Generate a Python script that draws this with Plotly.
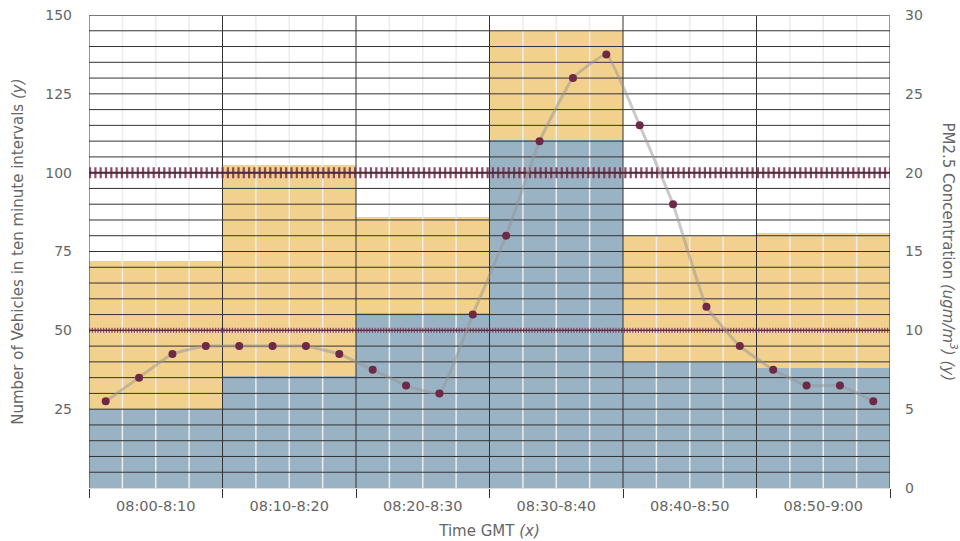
import plotly.graph_objects as go

# ---------------- data ----------------
categories = ["08:00-8:10", "08:10-8:20", "08:20-8:30", "08:30-8:40", "08:40-8:50", "08:50-9:00"]
vehicles_total = [72, 102.5, 86, 145, 80, 81]
vehicles_sub = [25, 35.5, 55.5, 110.5, 40, 38]
pm25 = [5.5, 7.0, 8.5, 9.0, 9.0, 9.0, 9.0, 8.5, 7.5, 6.5, 6.0, 11.0,
        16.0, 22.0, 26.0, 27.5, 23.0, 18.0, 11.5, 9.0, 7.5, 6.5, 6.5, 5.5]
limit_high = 100
limit_low = 50
left_ticks = [25, 50, 75, 100, 125, 150]
right_ticks = [0, 5, 10, 15, 20, 25, 30]

# ---------------- styles ----------------
ORANGE = "#f2d18f"
BLUE = "#9ab3c4"
MAROON = "#6d2946"
DARK = "#333333"
LIGHT = "#ececec"
TEXT = "#666666"
FONT = "DejaVu Sans"

n_cat = len(categories)
sub_per_cat = len(pm25) // n_cat
x_max = n_cat * sub_per_cat
y_max = 150
y2_max = 30

cat_centers = [sub_per_cat * i + sub_per_cat / 2 for i in range(n_cat)]
pm_x = [i + 0.5 for i in range(len(pm25))]

fig = go.Figure()

fig.add_trace(go.Bar(x=cat_centers, y=vehicles_total, width=sub_per_cat,
                     marker=dict(color=ORANGE, line=dict(width=0)),
                     hoverinfo="skip", showlegend=False))
fig.add_trace(go.Bar(x=cat_centers, y=vehicles_sub, width=sub_per_cat,
                     marker=dict(color=BLUE, line=dict(width=0)),
                     hoverinfo="skip", showlegend=False))

# grid drawn above bars
lx, ly = [], []
for k in range(x_max + 1):
    if k % sub_per_cat != 0:
        lx += [k, k, None]
        ly += [0, y_max, None]
fig.add_trace(go.Scatter(x=lx, y=ly, mode="lines", line=dict(color=LIGHT, width=1.5),
                         hoverinfo="skip", showlegend=False))

hx, hy = [], []
for v in range(5, y_max, 5):
    hx += [0, x_max, None]
    hy += [v, v, None]
fig.add_trace(go.Scatter(x=hx, y=hy, mode="lines", line=dict(color=DARK, width=1),
                         hoverinfo="skip", showlegend=False))

vx, vy = [], []
for k in range(0, x_max + 1, sub_per_cat):
    vx += [k, k, None]
    vy += [0, y_max, None]
fig.add_trace(go.Scatter(x=vx, y=vy, mode="lines", line=dict(color=DARK, width=1),
                         hoverinfo="skip", showlegend=False))
fig.add_trace(go.Scatter(x=[0, x_max], y=[y_max, y_max], mode="lines",
                         line=dict(color="#777777", width=2),
                         hoverinfo="skip", showlegend=False))

# threshold "railroad" lines
fig.add_trace(go.Scatter(x=[0, x_max], y=[limit_high, limit_high], mode="lines",
                         line=dict(color="rgba(122,44,78,0.85)", width=11, dash="2.2px,3.1px"),
                         hoverinfo="skip", showlegend=False))
fig.add_trace(go.Scatter(x=[0, x_max], y=[limit_high, limit_high], mode="lines",
                         line=dict(color="#4a2a36", width=2),
                         hoverinfo="skip", showlegend=False))
fig.add_trace(go.Scatter(x=[0, x_max], y=[limit_low, limit_low], mode="lines",
                         line=dict(color="rgba(122,44,78,0.85)", width=5, dash="1.2px,1.6px"),
                         hoverinfo="skip", showlegend=False))
fig.add_trace(go.Scatter(x=[0, x_max], y=[limit_low, limit_low], mode="lines",
                         line=dict(color="#5a2a3e", width=1.3),
                         hoverinfo="skip", showlegend=False))

# PM2.5 line and points
fig.add_trace(go.Scatter(x=pm_x, y=pm25, yaxis="y2", mode="lines",
                         line=dict(color="rgba(150,150,150,0.5)", width=3, shape="spline", smoothing=0.35),
                         hoverinfo="skip", showlegend=False))
fig.add_trace(go.Scatter(x=pm_x, y=pm25, yaxis="y2", mode="markers",
                         marker=dict(color=MAROON, size=8),
                         showlegend=False))

fig.update_layout(
    width=960, height=541,
    margin=dict(l=89, r=70, t=15, b=53, autoexpand=False),
    paper_bgcolor="white", plot_bgcolor="white",
    barmode="overlay", bargap=0,
    font=dict(family=FONT, color=TEXT, size=14),
    xaxis=dict(range=[0, x_max], tickmode="array", tickvals=cat_centers, ticktext=categories,
               ticks="", showgrid=False, zeroline=False, automargin=False,
               showline=True, linecolor="#dddddd", linewidth=1,
               ticklabelstandoff=5,
               tickfont=dict(family=FONT, size=14.5, color=TEXT),
               minor=dict(tickmode="array", tickvals=list(range(0, x_max + 1, sub_per_cat)),
                          ticks="outside", ticklen=9, tickcolor=DARK, tickwidth=1, showgrid=False),
               title=dict(text="Time GMT <i>(x)</i>", font=dict(family=FONT, size=15, color=TEXT),
                          standoff=12)),
    yaxis=dict(range=[0, y_max], tickmode="array", tickvals=left_ticks, automargin=False,
               showgrid=False, zeroline=False, showline=False, ticks="",
               ticklabelstandoff=16, tickfont=dict(family=FONT, size=14, color=TEXT)),
    yaxis2=dict(range=[0, y2_max], overlaying="y", side="right", tickmode="array", automargin=False,
                tickvals=right_ticks, showgrid=False, zeroline=False, showline=False,
                ticks="", ticklabelstandoff=14, tickfont=dict(family=FONT, size=14, color=TEXT)),
    annotations=[
        dict(text="Number of Vehicles in ten minute intervals <i>(y)</i>", xref="paper", yref="paper",
             x=-0.0895, y=0.5, xanchor="center", yanchor="middle", textangle=-90, showarrow=False,
             font=dict(family=FONT, size=15, color=TEXT)),
        dict(text="PM2.5 Concentration <i>(ugm/m<sup>3</sup>)</i> <i>(y)</i>", xref="paper", yref="paper",
             x=1.075, y=0.5, xanchor="center", yanchor="middle", textangle=90, showarrow=False,
             font=dict(family=FONT, size=15, color=TEXT)),
    ],
)

fig.write_html("out.html", config={"displayModeBar": False},
               post_script="document.body.style.margin='0px';")
